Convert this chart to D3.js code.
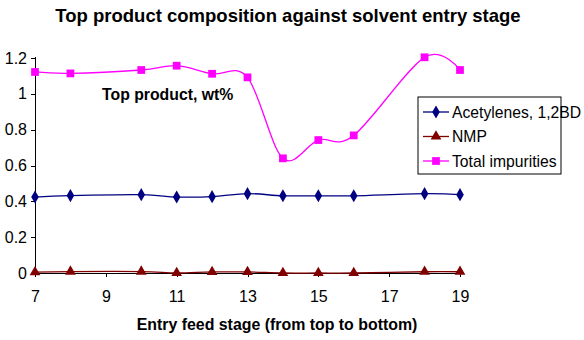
<!DOCTYPE html>
<meta charset="utf-8">
<style>
body { margin: 0; background: #fff; }
svg { font-family: "Liberation Sans", Arial, sans-serif; }
.axis path, .axis line { stroke: #000; shape-rendering: crispEdges; }
.axis text { font-size: 16px; fill: #000; }
.line { fill: none; stroke-width: 1.3px; }
</style>
<body>
<script src="https://cdn.jsdelivr.net/npm/d3@7"></script>
<script>

var stages = [7, 8, 10, 11, 12, 13, 14, 15, 16, 18, 19];
var acetylenes = [0.424, 0.432, 0.437, 0.424, 0.426, 0.443, 0.431, 0.431, 0.431, 0.443, 0.437];
var nmp = [0.005, 0.008, 0.008, 0.0, 0.006, 0.006, 0.0, 0.0, 0.0, 0.007, 0.007];
var total = [1.122, 1.114, 1.133, 1.157, 1.112, 1.092, 0.640, 0.742, 0.768, 1.204, 1.133];
var xTicks = [7, 9, 11, 13, 15, 17, 19];
var yTicks = [0, 0.2, 0.4, 0.6, 0.8, 1, 1.2];

var series = [
  {name: "Acetylenes, 1,2BD", values: acetylenes, color: "#000080", marker: "diamond"},
  {name: "NMP", values: nmp, color: "#800000", marker: "triangle"},
  {name: "Total impurities", values: total, color: "#ff00ff", marker: "square"}
];

var W = 584, H = 340;

var svg = d3.select("body").append("svg")
    .attr("width", W)
    .attr("height", H);

var x = d3.scaleLinear().domain([7, 19]).range([35, 460]);
var y = d3.scaleLinear().domain([0, 1.2]).range([273, 58]);

// axes
svg.append("g")
    .attr("class", "axis")
    .attr("transform", "translate(35,0)")
    .call(d3.axisLeft(y).tickValues(yTicks).tickSize(4).tickPadding(4)
      .tickFormat(function(d) { return d3.format("")(+d.toFixed(1)); }))
    .call(function(g) { g.select(".domain").attr("d", "M0," + y(0) + "V" + (y(1.2) - 1)); });

svg.append("g")
    .attr("class", "axis")
    .attr("transform", "translate(0," + y(0) + ")")
    .call(d3.axisBottom(x).tickValues(xTicks).tickSize(4).tickPadding(14))
    .call(function(g) { g.select(".domain").attr("d", "M35,0H460"); });

var line = d3.line()
    .curve(d3.curveCardinal.tension(0))
    .x(function(d, i) { return x(stages[i]); })
    .y(function(d) { return y(d); });

var symbolFor = {
  diamond: d3.symbol().type(d3.symbolDiamond).size(50),
  triangle: d3.symbol().type(d3.symbolTriangle).size(50),
  square: d3.symbol().type(d3.symbolSquare).size(60)
};

series.forEach(function(s) {
  svg.append("path")
      .datum(s.values)
      .attr("class", "line")
      .attr("stroke", s.color)
      .attr("d", line);

  svg.selectAll(null)
      .data(s.values)
    .enter().append("path")
      .attr("transform", function(d, i) { return "translate(" + x(stages[i]) + "," + y(d) + ")"; })
      .attr("d", symbolFor[s.marker])
      .attr("fill", s.color);
});

// titles
svg.append("text")
    .attr("x", 288).attr("y", 22)
    .attr("text-anchor", "middle")
    .style("font-size", "18.5px").style("font-weight", "bold")
    .text("Top product composition against solvent entry stage");

svg.append("text")
    .attr("x", 102).attr("y", 100)
    .style("font-size", "15.8px").style("font-weight", "bold")
    .text("Top product, wt%");

svg.append("text")
    .attr("x", 277).attr("y", 330)
    .attr("text-anchor", "middle")
    .style("font-size", "15.9px").style("font-weight", "bold")
    .text("Entry feed stage (from top to bottom)");

// legend
var legend = svg.append("g").attr("transform", "translate(418,97)");
legend.append("rect")
    .attr("width", 143).attr("height", 77)
    .attr("fill", "#fff").attr("stroke", "#000");

var item = legend.selectAll(".item")
    .data(series)
  .enter().append("g")
    .attr("transform", function(d, i) { return "translate(0," + (15 + i * 24.5) + ")"; });

item.append("line")
    .attr("x1", 5).attr("x2", 31)
    .attr("stroke", function(d) { return d.color; })
    .attr("stroke-width", 1.3);
item.append("path")
    .attr("transform", "translate(18,0)")
    .attr("d", function(d) { return symbolFor[d.marker](); })
    .attr("fill", function(d) { return d.color; });
item.append("text")
    .attr("x", 34).attr("dy", "0.35em")
    .style("font-size", "15.7px")
    .text(function(d) { return d.name; });

</script>
